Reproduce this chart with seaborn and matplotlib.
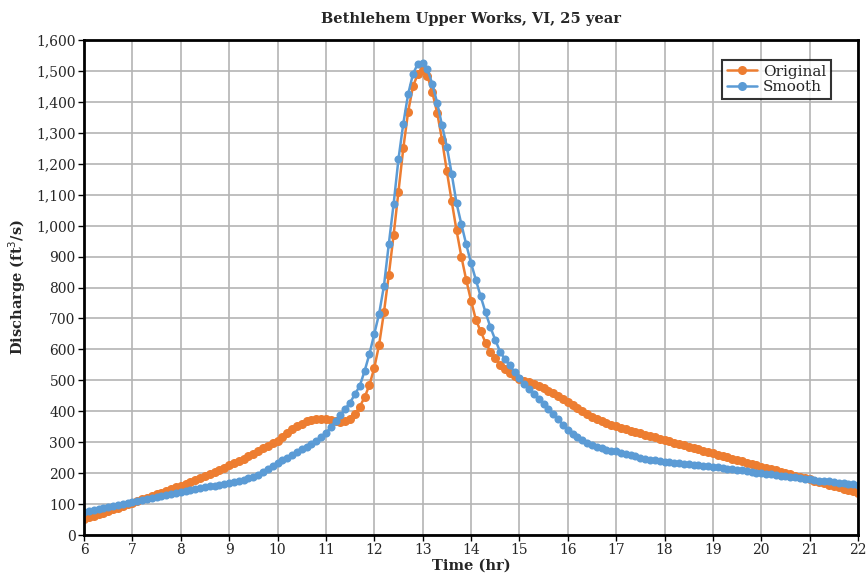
import numpy as np
import pandas as pd
import seaborn as sns
from matplotlib import pyplot as plt
from matplotlib.ticker import StrMethodFormatter, MultipleLocator

# time axis, one reading every 0.1 hr from 6 to 22
time_hr = np.round(np.arange(6.0, 22.01, 0.1), 1)

original = [
    52, 57, 62, 67, 72, 77, 83, 88, 94, 99,
    105, 110, 115, 121, 126, 132, 137, 143, 148, 154,
    160, 166, 172, 178, 185, 191, 197, 204, 211, 218,
    225, 232, 240, 247, 255, 263, 271, 280, 288, 297,
    305, 318, 330, 342, 352, 360, 367, 372, 375, 376,
    375, 371, 367, 366, 368, 375, 390, 415, 445, 485,
    540, 615, 720, 840, 970, 1110, 1250, 1368, 1450, 1490,
    1503, 1483, 1431, 1365, 1278, 1176, 1079, 985, 900, 825,
    758, 696, 658, 622, 593, 572, 550, 536, 525, 515,
    505, 499, 493, 487, 481, 475, 467, 459, 450, 441,
    431, 421, 411, 401, 391, 382, 374, 367, 361, 356,
    351, 346, 342, 337, 333, 329, 324, 320, 316, 311,
    307, 303, 298, 294, 290, 286, 281, 277, 273, 268,
    264, 260, 255, 251, 247, 243, 238, 234, 230, 225,
    221, 217, 213, 209, 205, 201, 196, 192, 188, 184,
    180, 176, 171, 167, 163, 159, 154, 150, 146, 141,
    137,
]

smooth = [
    76, 79, 82, 85, 88, 91, 94, 97, 100, 103,
    106, 109, 112, 116, 119, 122, 126, 129, 132, 136,
    139, 142, 145, 148, 151, 154, 157, 160, 163, 166,
    169, 172, 175, 179, 183, 188, 195, 203, 212, 222,
    232, 241, 250, 259, 268, 277, 286, 295, 305, 316,
    330, 348, 368, 388, 408, 428, 455, 482, 530, 585,
    650, 715, 805, 940, 1070, 1215, 1330, 1425, 1490, 1523,
    1527, 1505, 1458, 1397, 1325, 1255, 1168, 1073, 1005, 940,
    879, 825, 771, 720, 672, 631, 593, 568, 548, 528,
    507, 488, 472, 455, 440, 425, 408, 391, 374, 357,
    340, 328, 316, 306, 298, 291, 285, 280, 276, 273,
    270, 266, 262, 258, 254, 250, 247, 244, 241, 239,
    237, 235, 234, 232, 230, 229, 227, 226, 224, 222,
    221, 219, 217, 215, 213, 211, 209, 206, 204, 202,
    200, 198, 196, 194, 192, 190, 188, 186, 184, 182,
    180, 178, 176, 175, 173, 171, 169, 167, 165, 164,
    162,
]

series_names = ["Original", "Smooth"]
colors = ["#ED7D31", "#5B9BD5"]

df = pd.DataFrame({"Time": time_hr, "Original": original, "Smooth": smooth})
df_long = df.melt(id_vars="Time", var_name="Series", value_name="Discharge")

sns.set_style("whitegrid")
plt.rcParams["font.family"] = ["DejaVu Serif"]

fig = plt.figure(figsize=(8.68, 5.83), dpi=100)
ax = fig.add_axes([0.0968, 0.0823, 0.8917, 0.8491])

sns.lineplot(data=df_long, x="Time", y="Discharge", hue="Series",
             hue_order=series_names, palette=colors, marker="o",
             markersize=6.5, markeredgewidth=0, linewidth=1.8, ax=ax)
# smooth series has slightly smaller dots
ax.lines[1].set_markersize(5.8)

ax.set_xlim(6, 22)
ax.set_ylim(0, 1600)
ax.xaxis.set_major_locator(MultipleLocator(1))
ax.yaxis.set_major_locator(MultipleLocator(100))
ax.yaxis.set_major_formatter(StrMethodFormatter("{x:,.0f}"))
ax.grid(True, color="#b4b4b4", linewidth=1.2)
for s in ax.spines.values():
    s.set_color("black")
    s.set_linewidth(2)
ax.tick_params(axis="both", which="major", labelsize=10, length=4,
               width=1, color="black", direction="out", pad=2,
               left=True, bottom=True)

ax.set_title("Bethlehem Upper Works, VI, 25 year", fontsize=10.5,
             fontweight="bold", pad=12)
ax.set_xlabel("Time (hr)", fontsize=10.5, fontweight="bold", labelpad=1)
ax.set_ylabel("Discharge (ft$^3$/s)", fontsize=10.5, fontweight="bold", labelpad=6)

leg = ax.legend(loc="upper right", bbox_to_anchor=(0.975, 0.975), fontsize=11,
                frameon=True, fancybox=False, borderpad=0.3, labelspacing=0.1,
                handlelength=2.0, handletextpad=0.4)
leg.get_frame().set_edgecolor("black")
leg.get_frame().set_linewidth(1.5)
leg.set_title(None)

fig.savefig("out.png", dpi=100)
